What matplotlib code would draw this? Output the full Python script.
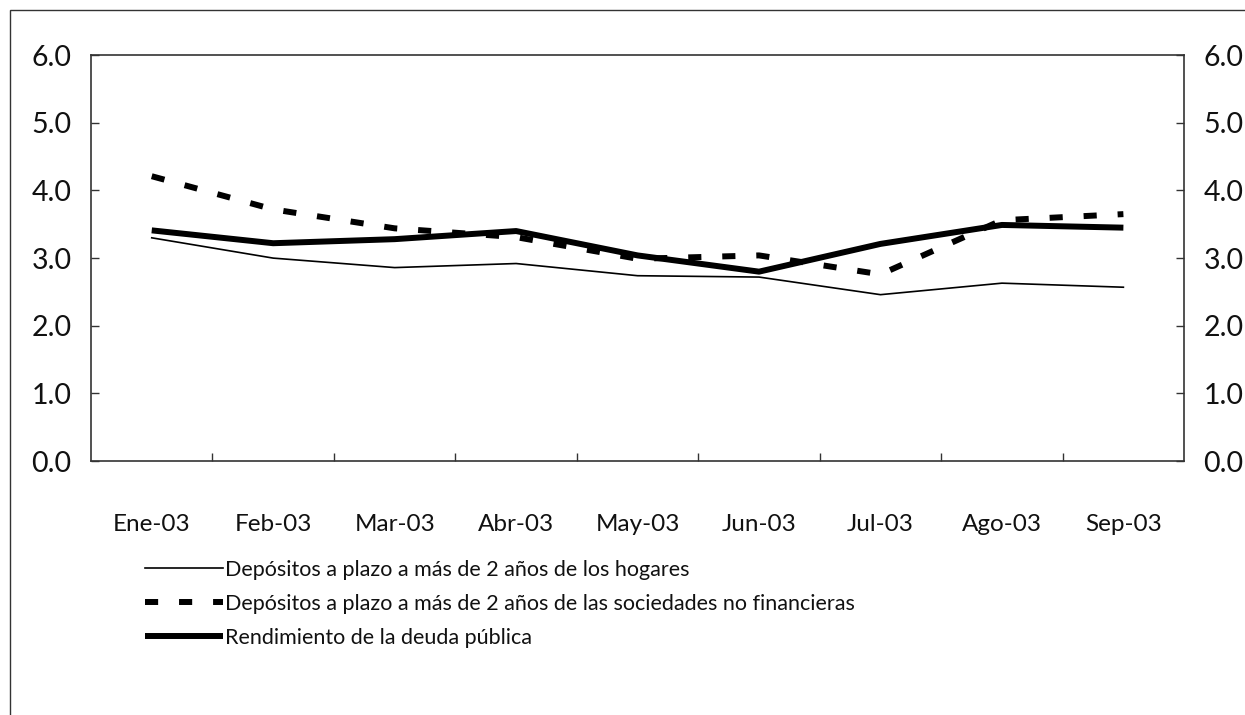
import matplotlib
matplotlib.use('Agg')
from matplotlib import pyplot as plt
from matplotlib.patches import Rectangle

plt.rcParams['font.family'] = ['Lato', 'DejaVu Sans']

# data
months = ['Ene-03', 'Feb-03', 'Mar-03', 'Abr-03', 'May-03', 'Jun-03', 'Jul-03', 'Ago-03', 'Sep-03']
hogares = [3.30, 3.00, 2.86, 2.92, 2.74, 2.72, 2.46, 2.63, 2.57]
sociedades = [4.21, 3.72, 3.44, 3.31, 2.99, 3.04, 2.76, 3.56, 3.65]
deuda = [3.41, 3.22, 3.28, 3.40, 3.04, 2.80, 3.21, 3.49, 3.45]
labels = ['Depósitos a plazo a más de 2 años de los hogares',
          'Depósitos a plazo a más de 2 años de las sociedades no financieras',
          'Rendimiento de la deuda pública']
yticks = [0, 1, 2, 3, 4, 5, 6]

fig = plt.figure(figsize=(12.45, 7.15), dpi=100)
ax = fig.add_axes([0.0731, 0.355, 0.878, 0.568])

x = range(len(months))
ax.plot(x, hogares, color='black', lw=1.2, label=labels[0])
ax.plot(x, sociedades, color='black', lw=4.3, dashes=(2.2, 3.5), label=labels[1])
ax.plot(x, deuda, color='black', lw=4.3, solid_capstyle='butt', label=labels[2])

ax.set_xlim(-0.5, len(months) - 0.5)
ax.set_ylim(0, 6)
ax.set_yticks(yticks)
ax.set_yticklabels(['%.1f' % v for v in yticks])

# category boundaries get the tick marks, labels sit at centres
ax.set_xticks([i + 0.5 for i in range(len(months) - 1)])
ax.set_xticklabels([])
ax.set_xticks(list(x), minor=True)
ax.set_xticklabels(months, minor=True)
ax.tick_params(axis='x', which='major', direction='in', length=6, width=1, color='#333333')
ax.tick_params(axis='x', which='minor', length=0, pad=38, labelsize=17.5, labelcolor='#111111')
ax.tick_params(axis='y', direction='in', length=6, width=1, color='#333333',
               right=True, labelright=True, pad=14, labelsize=20.5, labelcolor='#111111')

for s in ax.spines.values():
    s.set_color('#333333')
    s.set_linewidth(1.2)

fig.legend(loc='upper left', bbox_to_anchor=(0.108, 0.232), frameon=False,
           fontsize=15.5, handlelength=3.6, handletextpad=0.1, labelspacing=0.65,
           borderpad=0, labelcolor='#111111')

# outer frame of the original exhibit (cut off at right and bottom)
fig.patches.append(Rectangle((10 / 1245, -0.1), 1.2, 1 - 10 / 715 + 0.1,
                             transform=fig.transFigure, fill=False,
                             edgecolor='#333333', lw=1))

fig.savefig('out.png', dpi=100)
